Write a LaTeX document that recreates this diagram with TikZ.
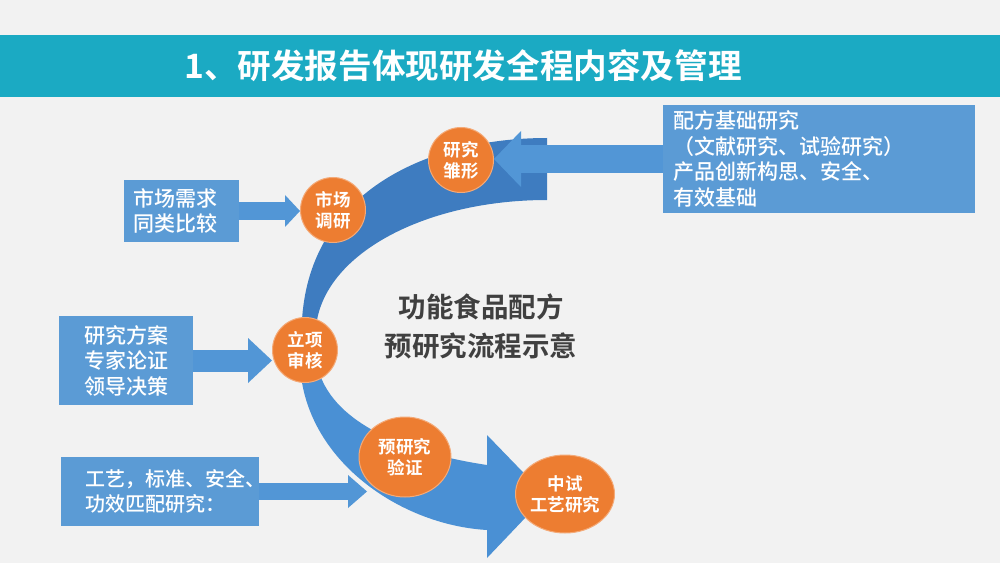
\documentclass[tikz,border=0pt]{standalone}
\usepackage{fontspec}
\setmainfont{Noto Sans CJK SC}[BoldFont={Noto Sans CJK SC Bold}]
\newfontfamily\boxfont{Noto Sans CJK SC Medium}
\usetikzlibrary{arrows.meta,shapes.geometric}

\definecolor{bgc}{RGB}{242,242,242}
\definecolor{bandc}{RGB}{27,170,195}
\definecolor{boxc}{RGB}{91,155,213}
\definecolor{arrowc}{RGB}{82,150,214}
\definecolor{upperc}{RGB}{62,124,192}
\definecolor{lowerc}{RGB}{74,144,212}
\definecolor{stagec}{RGB}{237,125,49}
\definecolor{stageedge}{RGB}{244,170,120}
\definecolor{textc}{RGB}{64,64,64}

\tikzset{
  infobox/.style={fill=boxc, text=white, inner sep=0pt, font=\boxfont\fontsize{21}{25.5}\selectfont},
  stage/.style={circle, fill=stagec, draw=stageedge, line width=1pt, minimum size=65pt, inner sep=0pt,
    text=white, align=center, font=\bfseries\fontsize{17.5}{21}\selectfont},
  bigstage/.style={stage, ellipse},
  feed/.style={draw=arrowc}
}

\begin{document}
\begin{tikzpicture}[x=1pt,y=1pt]
  \fill[bgc] (0,0) rectangle (1000,563);
  \useasboundingbox (0,0) rectangle (1000,563);

  % title band
  \fill[bandc] (0,466) rectangle (1000,528);
  \node[text=white, font=\bfseries\fontsize{33.6}{40}\selectfont] (title) at (463,497) {1、研发报告体现研发全程内容及管理};

  % the big curved arrow
  \fill[lowerc] (300,198) .. controls (305,103) and (400,38) .. (487,33)
    -- (487,5) -- (546,67) -- (487,128) -- (487,98)
    .. controls (420,108) and (340,133) .. (320,188) -- cycle;
  \fill[upperc] (547,425) .. controls (430,425) and (310,373) .. (302,243)
    -- (317,243) .. controls (330,313) and (430,363) .. (547,363) -- cycle;

  % stages
  \node[stage] (yj) at (461,403) {研究\\雏形};
  \node[stage] (sc) at (333,353) {市场\\调研};
  \node[stage] (lx) at (305,213) {立项\\审核};
  \node[bigstage, minimum width=92pt, minimum height=80pt] (yy) at (405,106) {预研究\\验证};
  \node[bigstage, minimum width=90pt, minimum height=78pt] (zs) at (565,69) {中试\\工艺研究};

  \node[text=textc, align=center, font=\bfseries\fontsize{27.5}{39}\selectfont] (caption) at (481,237)
    {功能食品配方\\预研究流程示意};

  % input boxes
  \node[infobox, minimum width=312pt, minimum height=108pt, text width=292pt, align=left] (base) at (819,404)
    {配方基础研究\\（文献研究、试验研究）\\产品创新构思、安全、\\有效基础};
  \node[infobox, minimum width=115pt, minimum height=62pt, text width=97pt, align=left] (need) at (181.5,352)
    {市场需求\\同类比较};
  \node[infobox, minimum width=134pt, minimum height=89pt, align=center] (plan) at (126,202.5)
    {研究方案\\专家论证\\领导决策};
  \node[infobox, font=\boxfont\fontsize{20}{25}\selectfont, minimum width=198pt, minimum height=69pt, text width=150pt, align=left] (tech) at (160,71.5)
    {工艺，标准、安全、\\功效匹配研究：};
  \coordinate (techend) at (367,71.5);

  % feeding arrows
  \draw[feed, line width=28pt, -{Triangle[length=27pt, width=56pt, line width=0pt]}] (base.west) -- (base.west -| yj.east);
  \draw[feed, line width=18pt, -{Triangle[length=15pt, width=32pt, line width=0pt]}] (need.east) -- (need.east -| sc.west);
  \draw[feed, line width=22pt, -{Triangle[length=24pt, width=45pt, line width=0pt]}] (plan.east) -- (plan.east -| lx.west);
  \draw[feed, line width=17pt, -{Triangle[length=19pt, width=33pt, line width=0pt]}] (tech.east) -- (techend);
\end{tikzpicture}
\end{document}
